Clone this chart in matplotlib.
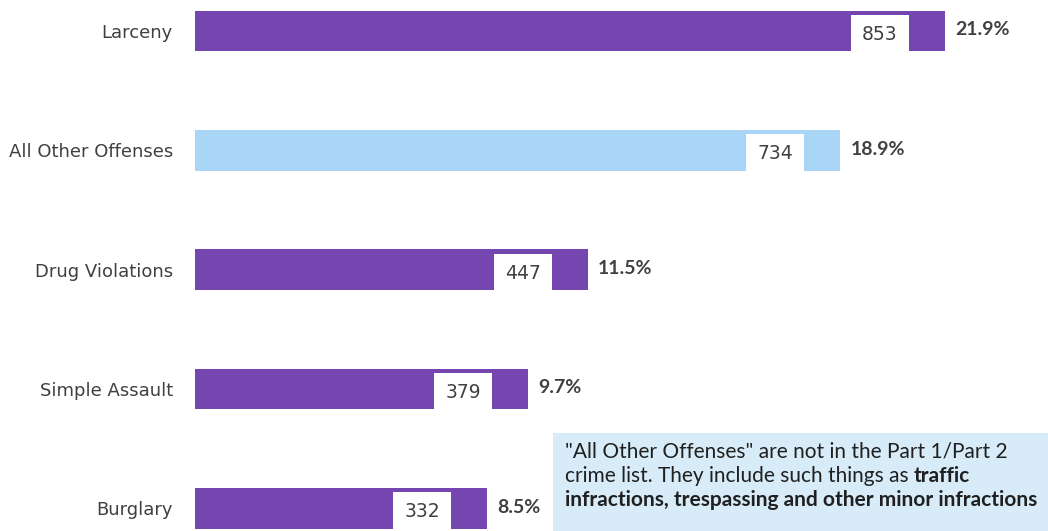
import matplotlib.pyplot as plt
from matplotlib.patches import Rectangle

# Offense counts and share of all offenses
offenses = ['Larceny', 'All Other Offenses', 'Drug Violations', 'Simple Assault', 'Burglary']
counts = [853, 734, 447, 379, 332]
shares = ['21.9%', '18.9%', '11.5%', '9.7%', '8.5%']
colours = ['#7646B0', '#A9D5F7', '#7646B0', '#7646B0', '#7646B0']

note_line1 = '"All Other Offenses" are not in the Part 1/Part 2'
note_line2 = 'crime list. They include such things as '
note_line2_bold = 'traffic'
note_line3_bold = 'infractions, trespassing and other minor infractions'

text_grey = '#404040'

fig = plt.figure(figsize = (10.48, 5.31), dpi = 100)
ax = fig.add_axes([195 / 1048, 0.0, 1 - 195 / 1048, 1.0])

px = 853 / 750.0   # data units per pixel along x
ypos = range(len(offenses))
bar_h = 0.34

ax.barh(ypos, counts, height = bar_h, color = colours, edgecolor = 'none')

for i, (v, s) in enumerate(zip(counts, shares)):
    # white box with the count near the end of the bar
    box_right = v - 36 * px
    box_w = 58 * px
    gap = 0.035
    ax.add_patch(Rectangle((box_right - box_w, i - bar_h / 2 + gap), box_w, bar_h - gap,
                           facecolor = 'white', edgecolor = 'none', zorder = 3))
    ax.text(box_right - box_w / 2, i + 0.03, str(v), ha = 'center', va = 'center',
            fontsize = 13.5, color = text_grey, zorder = 4)
    ax.text(v + 10 * px, i - 0.01, s, ha = 'left', va = 'center',
            fontsize = 14, color = text_grey, family = 'Lato', weight = 'bold')

ax.set_xlim(0, 853 / 750.0 * 853)
ax.set_ylim(4.19, -0.26)
ax.set_yticks(list(ypos))
ax.set_yticklabels(offenses, fontsize = 13, color = text_grey)
ax.tick_params(axis = 'y', length = 0, pad = 16)
ax.set_xticks([])
for sp in ax.spines.values():
    sp.set_visible(False)

# explanatory note in the lower right corner
fig.patches.append(Rectangle((553 / 1048, 0.0), 1 - 553 / 1048, 98 / 531,
                             transform = fig.transFigure, facecolor = '#D7ECF8',
                             edgecolor = 'none', zorder = 0))
fs = 15
t1 = fig.text(565 / 1048, 1 - 451 / 531, note_line1, fontsize = fs, color = '#202020',
              family = 'Lato', va = 'center')
t2 = fig.text(565 / 1048, 1 - 476 / 531, note_line2, fontsize = fs, color = '#202020',
              family = 'Lato', va = 'center')
t2b = fig.text(0, 0, note_line2_bold, fontsize = fs, color = '#202020', family = 'Lato',
               weight = 'bold', va = 'center')
fig.canvas.draw()
bb = t2.get_window_extent()
t2b.set_position((bb.x1 / 1048, 1 - 476 / 531))
fig.text(565 / 1048, 1 - 500 / 531, note_line3_bold, fontsize = fs, color = '#202020',
         family = 'Lato', weight = 'bold', va = 'center')

fig.savefig('out.png', dpi = 100)
